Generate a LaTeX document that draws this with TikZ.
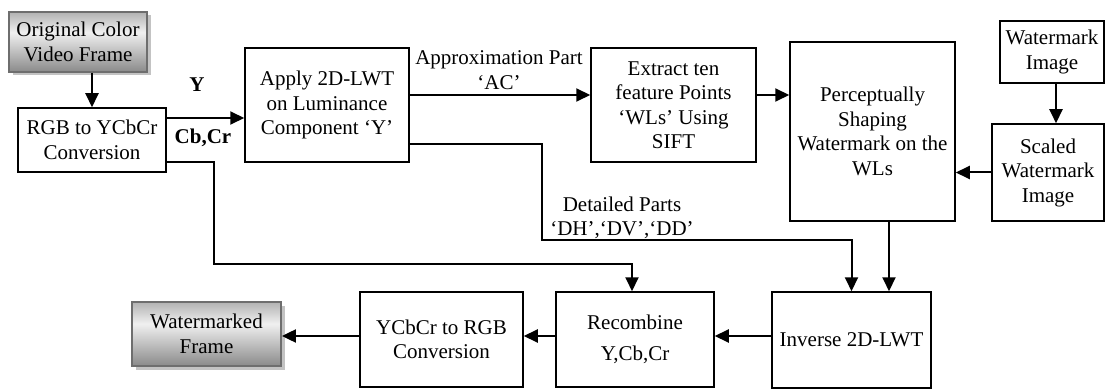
\documentclass[tikz,border=0pt]{standalone}
\usepackage{fontspec}
\setmainfont{Liberation Serif}
\usetikzlibrary{arrows.meta,shadows}
\definecolor{sbot}{RGB}{138,138,138}
\definecolor{smid}{RGB}{240,240,240}
\definecolor{stop}{RGB}{178,178,178}
\definecolor{gborder}{RGB}{110,110,110}
\definecolor{shadowc}{RGB}{195,195,195}
\pgfdeclareverticalshading{frameshade}{100bp}{color(0bp)=(sbot); color(25bp)=(sbot); color(58bp)=(smid); color(75bp)=(stop); color(100bp)=(stop)}
\begin{document}
\begin{tikzpicture}[x=1pt,y=-1pt,
  txt/.style={font=\fontsize{21}{24.5}\selectfont, align=center, inner sep=0pt},
  box/.style={txt, draw, line width=1.5pt},
  gbox/.style={txt, draw=gborder, line width=1.8pt, shading=frameshade,
     drop shadow={shadow xshift=3.5pt, shadow yshift=-3.5pt, fill=shadowc, opacity=1}},
  arr/.style={line width=2pt, -{Triangle[length=14pt,width=13pt]}},
  lab/.style={txt, font=\fontsize{21}{24.5}\selectfont\bfseries}]
\useasboundingbox (0,0) rectangle (1105,390);
\fill[white] (0,0) rectangle (1105,390);
% nodes
\node[gbox, minimum width=138pt, minimum height=60pt] (orig) at (78,42) {Original Color\\Video Frame};
\node[box, minimum width=148pt, minimum height=64pt] (rgb) at (92,140) {RGB to YCbCr\\Conversion};
\node[box, minimum width=164pt, minimum height=114pt] (apply) at (327,105) {Apply 2D-LWT\\on Luminance\\Component ‘Y’};
\node[box, minimum width=165pt, minimum height=114pt] (extract) at (673.5,105) {Extract ten\\feature Points\\‘WLs’ Using\\SIFT};
\node[box, minimum width=165pt, minimum height=179pt] (percept) at (872.5,131.5) {Perceptually\\Shaping\\Watermark on the\\WLs};
\node[box, minimum width=104pt, minimum height=62pt] (wm) at (1052,52) {Watermark\\Image};
\node[box, minimum width=112pt, minimum height=97pt] (scaled) at (1048,172.5) {Scaled\\Watermark\\Image};
\node[box, minimum width=159pt, minimum height=96pt] (inverse) at (851.5,340) {Inverse 2D-LWT};
\node[box, minimum width=158pt, minimum height=95pt] (recomb) at (635,339.5) {Recombine\\[6pt]Y,Cb,Cr};
\node[box, minimum width=163pt, minimum height=95pt] (y2r) at (441.5,339.5) {YCbCr to RGB\\Conversion};
\node[gbox, minimum width=149pt, minimum height=64pt] (wframe) at (206.5,334) {Watermarked\\Frame};
% labels
\node[lab] (ly) at (197,85) {Y};
\node[lab] (lcb) at (203,138) {Cb,Cr};
\node[txt] (lac) at (499,70) {Approximation Part\\‘AC’};
\node[txt] (ldet) at (622,218) {Detailed Parts\\‘DH’,‘DV’,‘DD’};
% coordinates
\coordinate (c1) at (214,264);
\coordinate (d1) at (542,240);
% connectors
\draw[arr] (rgb.north |- orig.south) -- (rgb.north);
\draw[arr] ([yshift=22pt]rgb.east) -- ([yshift=22pt]rgb.east -| apply.west);
\draw[arr] ([yshift=-22pt]rgb.east) -| (c1) -| ([xshift=-3pt]recomb.north);
\draw[arr] ([yshift=10pt]apply.east) -- ([yshift=10pt]apply.east -| extract.west);
\draw[arr] ([yshift=-39pt]apply.east) -| (d1) -| (inverse.north);
\draw[arr] ([yshift=10pt]extract.east) -- ([yshift=10pt]extract.east -| percept.west);
\draw[arr] ([xshift=4pt]wm.south) -- ([xshift=4pt]wm.south |- scaled.north);
\draw[arr] (scaled.west) -- (scaled.west -| percept.east);
\draw[arr] ([xshift=16.5pt]percept.south) -- ([xshift=16.5pt]percept.south |- inverse.north);
\draw[arr] ([yshift=4pt]inverse.west) -- ([yshift=4pt]inverse.west -| recomb.east);
\draw[arr] ([yshift=3.5pt]recomb.west) -- ([yshift=3.5pt]recomb.west -| y2r.east);
\draw[arr] ([yshift=3.5pt]y2r.west) -- ([yshift=3.5pt]y2r.west -| wframe.east);
\end{tikzpicture}
\end{document}
